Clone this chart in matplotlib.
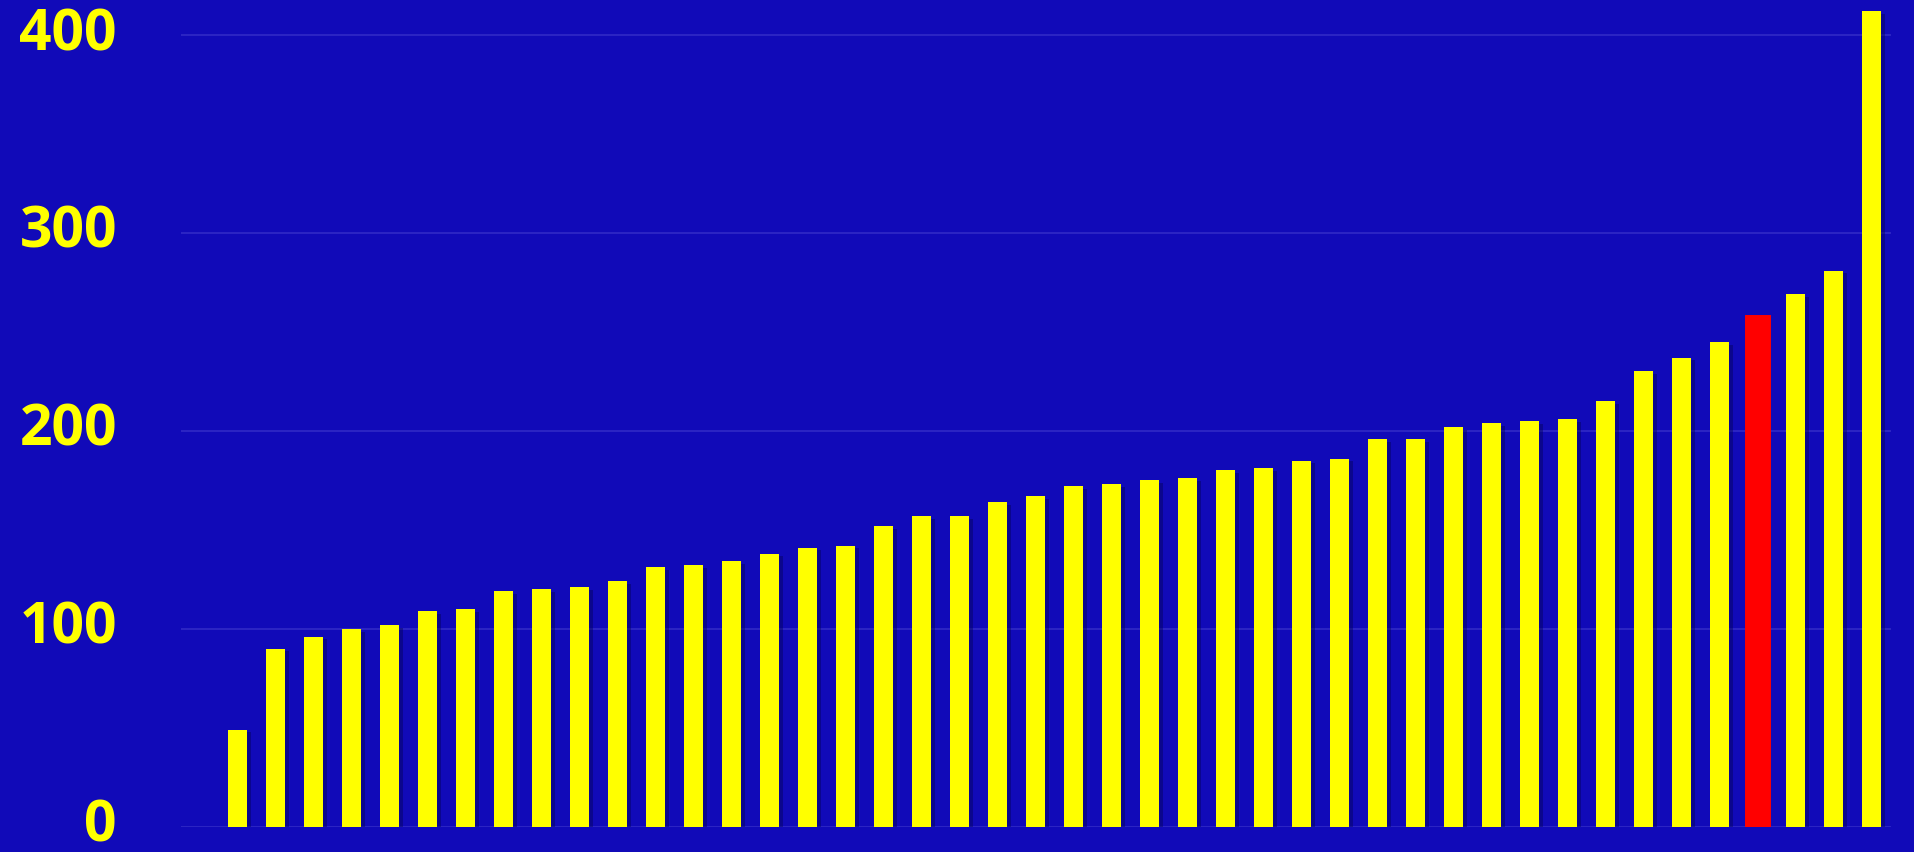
import numpy as np
import matplotlib
matplotlib.use("Agg")
import matplotlib.pyplot as plt
import matplotlib.patheffects as pe

# values, sorted low to high
values = [49, 90, 96, 100, 102, 109, 110, 119, 120, 121, 124, 131, 132, 134,
          138, 141, 142, 152, 157, 157, 164, 167, 172, 173, 175, 176, 180, 181,
          185, 186, 196, 196, 202, 204, 205, 206, 215, 230, 237, 245, 257, 269,
          281, 412]
highlight = 40  # index of the red bar
yticks = [0, 100, 200, 300, 400]

bg = "#110ab8"
grid_col = "#2c25c4"
yellow = "#ffff00"
red = "#ff0000"

fig = plt.figure(figsize=(19.15, 8.52), dpi=100, facecolor=bg)
ax = fig.add_axes([0.0944, 0.0297, 0.8929, 0.9703])
ax.set_facecolor(bg)

x = np.arange(len(values))
colors = [red if i == highlight else yellow for i in x]

bars = ax.bar(x, values, width=0.5, color=colors, zorder=3)
shadow = [pe.SimplePatchShadow(offset=(3, -2), shadow_rgbFace="#05035a", alpha=0.45), pe.Normal()]
for i, b in enumerate(bars):
    if i == highlight:
        b.set_edgecolor(red)
        b.set_linewidth(5)
    else:
        b.set_path_effects(shadow)

ax.set_xlim(-1.495, len(values) - 0.495)
ax.set_ylim(0, 417.7)
ax.set_yticks(yticks)
ax.set_yticklabels([str(v) for v in yticks])
ax.set_xticks([])
ax.yaxis.grid(True, color=grid_col, linewidth=1.4, zorder=0)
ax.set_axisbelow(True)
for s in ax.spines.values():
    s.set_visible(False)
ax.tick_params(axis="y", length=0, pad=46, labelcolor=yellow, labelsize=41)
for lab in ax.get_yticklabels():
    lab.set_fontfamily(["Open Sans", "DejaVu Sans"])
    lab.set_fontweight("bold")
    lab.set_va("center")

fig.savefig("out.png", dpi=100, facecolor=bg)
